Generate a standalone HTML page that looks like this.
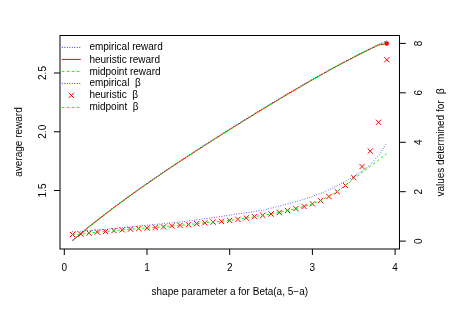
<!DOCTYPE html>
<html><head><meta charset="utf-8"><title>plot</title>
<style>html,body{margin:0;padding:0;background:#fff}body{width:459px;height:309px;overflow:hidden}</style></head>
<body>
<svg width="459" height="309" viewBox="0 0 459 309" style="display:block;will-change:transform;font-family:'Liberation Sans',sans-serif;font-size:10px">
<rect width="459" height="309" fill="#fff"/>
<g fill="none" stroke-width="1.0">
<polyline points="72.6,240.6 80.8,233.6 89.1,226.9 97.4,220.3 105.7,213.9 113.9,207.6 122.2,201.5 130.5,195.5 138.7,189.6 147.0,183.8 155.3,178.1 163.5,172.4 171.8,166.9 180.1,161.4 188.4,156.0 196.6,150.6 204.9,145.3 213.2,140.0 221.4,134.8 229.7,129.6 238.0,124.4 246.2,119.3 254.5,114.2 262.8,109.1 271.1,104.1 279.3,99.2 287.6,94.2 295.9,89.4 304.1,84.6 312.4,79.8 320.7,75.1 328.9,70.5 337.2,66.0 345.5,61.6 353.8,57.3 362.0,53.0 370.3,49.0 378.6,45.0 386.8,41.2" stroke="#0000ff" stroke-dasharray="0.8 1.7" transform="translate(-0.2,-0.45)"/>
<polyline points="72.6,240.6 80.8,233.6 89.1,226.9 97.4,220.3 105.7,213.9 113.9,207.6 122.2,201.5 130.5,195.5 138.7,189.6 147.0,183.8 155.3,178.1 163.5,172.4 171.8,166.9 180.1,161.4 188.4,156.0 196.6,150.6 204.9,145.3 213.2,140.0 221.4,134.8 229.7,129.6 238.0,124.4 246.2,119.3 254.5,114.2 262.8,109.1 271.1,104.1 279.3,99.2 287.6,94.2 295.9,89.4 304.1,84.6 312.4,79.8 320.7,75.1 328.9,70.5 337.2,66.0 345.5,61.6 353.8,57.3 362.0,53.0 370.3,49.0 378.6,45.0 386.8,43.5" stroke="#ff0000"/>
<polyline points="72.6,240.6 80.8,233.6 89.1,226.9 97.4,220.3 105.7,213.9 113.9,207.6 122.2,201.5 130.5,195.5 138.7,189.6 147.0,183.8 155.3,178.1 163.5,172.4 171.8,166.9 180.1,161.4 188.4,156.0 196.6,150.6 204.9,145.3 213.2,140.0 221.4,134.8 229.7,129.6 238.0,124.4 246.2,119.3 254.5,114.2 262.8,109.1 271.1,104.1 279.3,99.2 287.6,94.2 295.9,89.4 304.1,84.6 312.4,79.8 320.7,75.1 328.9,70.5 337.2,66.0 345.5,61.6 353.8,57.3 362.0,53.0 370.3,49.0 378.6,45.0 386.8,41.2" stroke="#00ff00" stroke-dasharray="2.5 2.5"/>
</g>
<circle cx="386.8" cy="43.5" r="2.2" fill="#ff0000"/>
<g fill="none" stroke="#000" stroke-width="1.0">
<rect x="60" y="35.5" width="339.5" height="213.5"/>
<path d="M64.3,249V255"/>
<path d="M147.0,249V255"/>
<path d="M229.7,249V255"/>
<path d="M312.4,249V255"/>
<path d="M395.1,249V255"/>
<path d="M60,190.5H54"/>
<path d="M60,131.75H54"/>
<path d="M60,73.0H54"/>
<path d="M399.5,241.1H405.8"/>
<path d="M399.5,191.7H405.8"/>
<path d="M399.5,142.3H405.8"/>
<path d="M399.5,92.8H405.8"/>
<path d="M399.5,43.4H405.8"/>
</g>
<g fill="#000" text-anchor="middle">
<text x="64.3" y="271.0">0</text>
<text x="147.0" y="271.0">1</text>
<text x="229.7" y="271.0">2</text>
<text x="312.4" y="271.0">3</text>
<text x="395.1" y="271.0">4</text>
<text transform="translate(46.0,190.5) rotate(-90)">1.5</text>
<text transform="translate(46.0,131.75) rotate(-90)">2.0</text>
<text transform="translate(46.0,73.0) rotate(-90)">2.5</text>
<text transform="translate(421.5,241.1) rotate(-90)">0</text>
<text transform="translate(421.5,191.7) rotate(-90)">2</text>
<text transform="translate(421.5,142.3) rotate(-90)">4</text>
<text transform="translate(421.5,92.8) rotate(-90)">6</text>
<text transform="translate(421.5,43.4) rotate(-90)">8</text>
<text x="229.8" y="294.5">shape parameter a for Beta(a, 5−a)</text>
<text transform="translate(22.2,142) rotate(-90)">average reward</text>
<text transform="translate(444.3,148.5) rotate(-90)" xml:space="preserve">values determined for</text>
<text transform="translate(444.3,91.2) rotate(-90)" style="font-size:10.5px">β</text>
</g>
<g fill="none" stroke-width="1.0">
<polyline points="72.3,231.7 77.6,231.4 82.9,231.1 88.2,230.7 93.6,230.3 98.9,229.9 104.2,229.5 109.5,229.0 114.8,228.5 120.1,228.0 125.4,227.5 130.7,227.0 136.1,226.4 141.4,225.8 146.7,225.2 152.0,224.7 157.3,224.2 162.6,223.7 167.9,223.2 173.3,222.7 178.6,222.1 183.9,221.5 189.2,220.8 194.5,220.2 199.8,219.4 205.1,218.7 210.5,217.9 215.8,217.2 221.1,216.4 226.4,215.6 231.7,214.8 237.0,214.0 242.3,213.3 247.6,212.5 253.0,211.8 258.3,211.0 263.6,210.0 268.9,208.8 274.2,207.4 279.5,206.0 284.8,204.6 290.2,203.2 295.5,201.8 300.8,200.3 306.1,198.6 311.4,196.9 316.7,194.9 322.0,192.8 327.4,190.5 332.7,188.0 338.0,185.1 343.3,182.2 348.6,179.4 353.9,176.5 359.2,173.2 364.5,169.4 369.9,164.7 375.2,159.4 380.5,153.1 385.8,144.0" stroke="#0000ff" stroke-dasharray="0.7 1.8" stroke-opacity="0.85"/>
<path d="M70.2,232.2l4.7,4.7M70.2,236.8l4.7,-4.7M78.5,231.8l4.7,4.7M78.5,236.5l4.7,-4.7M86.8,230.7l4.7,4.7M86.8,235.3l4.7,-4.7M95.0,229.8l4.7,4.7M95.0,234.4l4.7,-4.7M103.3,229.2l4.7,4.7M103.3,233.8l4.7,-4.7M111.6,228.3l4.7,4.7M111.6,233.0l4.7,-4.7M119.8,227.5l4.7,4.7M119.8,232.2l4.7,-4.7M128.1,226.8l4.7,4.7M128.1,231.5l4.7,-4.7M136.4,226.2l4.7,4.7M136.4,230.8l4.7,-4.7M144.7,225.8l4.7,4.7M144.7,230.4l4.7,-4.7M152.9,225.1l4.7,4.7M152.9,229.8l4.7,-4.7M161.2,224.5l4.7,4.7M161.2,229.2l4.7,-4.7M169.5,223.6l4.7,4.7M169.5,228.2l4.7,-4.7M177.7,223.0l4.7,4.7M177.7,227.7l4.7,-4.7M186.0,222.2l4.7,4.7M186.0,226.9l4.7,-4.7M194.3,221.3l4.7,4.7M194.3,226.0l4.7,-4.7M202.5,220.5l4.7,4.7M202.5,225.2l4.7,-4.7M210.8,219.8l4.7,4.7M210.8,224.4l4.7,-4.7M219.1,219.0l4.7,4.7M219.1,223.7l4.7,-4.7M227.3,218.1l4.7,4.7M227.3,222.8l4.7,-4.7M235.6,217.0l4.7,4.7M235.6,221.7l4.7,-4.7M243.9,215.7l4.7,4.7M243.9,220.3l4.7,-4.7M252.2,214.3l4.7,4.7M252.2,219.0l4.7,-4.7M260.4,213.0l4.7,4.7M260.4,217.7l4.7,-4.7M268.7,211.7l4.7,4.7M268.7,216.3l4.7,-4.7M277.0,210.2l4.7,4.7M277.0,214.8l4.7,-4.7M285.2,208.2l4.7,4.7M285.2,212.8l4.7,-4.7M293.5,206.2l4.7,4.7M293.5,210.9l4.7,-4.7M301.8,204.1l4.7,4.7M301.8,208.8l4.7,-4.7M310.1,201.5l4.7,4.7M310.1,206.2l4.7,-4.7M318.3,198.2l4.7,4.7M318.3,202.8l4.7,-4.7M326.6,194.2l4.7,4.7M326.6,198.8l4.7,-4.7M334.9,189.3l4.7,4.7M334.9,194.0l4.7,-4.7M343.1,183.1l4.7,4.7M343.1,187.8l4.7,-4.7M351.4,175.2l4.7,4.7M351.4,179.8l4.7,-4.7M359.7,164.2l4.7,4.7M359.7,168.9l4.7,-4.7M367.9,148.8l4.7,4.7M367.9,153.4l4.7,-4.7M376.2,120.0l4.7,4.7M376.2,124.6l4.7,-4.7M384.5,57.4l4.7,4.7M384.5,62.1l4.7,-4.7" stroke="#ff0000" stroke-width="1.0" stroke-linecap="round"/>
<polyline points="72.6,234.5 80.8,234.2 89.1,233.0 97.4,232.1 105.7,231.5 113.9,230.7 122.2,229.8 130.5,229.2 138.7,228.5 147.0,228.1 155.3,227.4 163.5,226.8 171.8,225.9 180.1,225.3 188.4,224.6 196.6,223.7 204.9,222.8 213.2,222.1 221.4,221.3 229.7,220.4 238.0,219.3 246.2,218.0 254.5,216.7 262.8,215.3 271.1,214.0 279.3,212.5 287.6,210.5 295.9,208.6 304.1,206.4 312.4,203.8 320.7,200.5 328.9,196.5 337.2,191.7 345.5,185.4 353.6,178.9 362.7,172.0 374.0,163.6 386.5,153.8" stroke="#00ff00" stroke-dasharray="2.5 2.5"/>
<path d="M61.9,47.4H80.8" stroke="#0000ff" stroke-dasharray="0.8 1.7"/>
<path d="M61.9,59.4H80.8" stroke="#ff0000"/>
<path d="M61.9,71.4H80.8" stroke="#00ff00" stroke-dasharray="2.5 2.5"/>
<path d="M61.9,83.4H80.8" stroke="#0000ff" stroke-dasharray="0.8 1.7"/>
<path d="M69.05,93.05l4.70,4.70M69.05,97.75l4.70,-4.70" stroke="#ff0000" stroke-linecap="round"/>
<path d="M61.9,107.4H80.8" stroke="#00ff00" stroke-dasharray="2.5 2.5"/>
</g>
<g fill="#000" xml:space="preserve">
<text x="89.4" y="50.3" xml:space="preserve">empirical reward</text>
<text x="89.4" y="63.1" xml:space="preserve">heuristic reward</text>
<text x="89.4" y="74.5" xml:space="preserve">midpoint reward</text>
<text x="89.4" y="86.2" xml:space="preserve">empirical  β</text>
<text x="89.4" y="98.0" xml:space="preserve">heuristic  β</text>
<text x="89.4" y="109.7" xml:space="preserve">midpoint  β</text>
</g>
</svg>
</body></html>
